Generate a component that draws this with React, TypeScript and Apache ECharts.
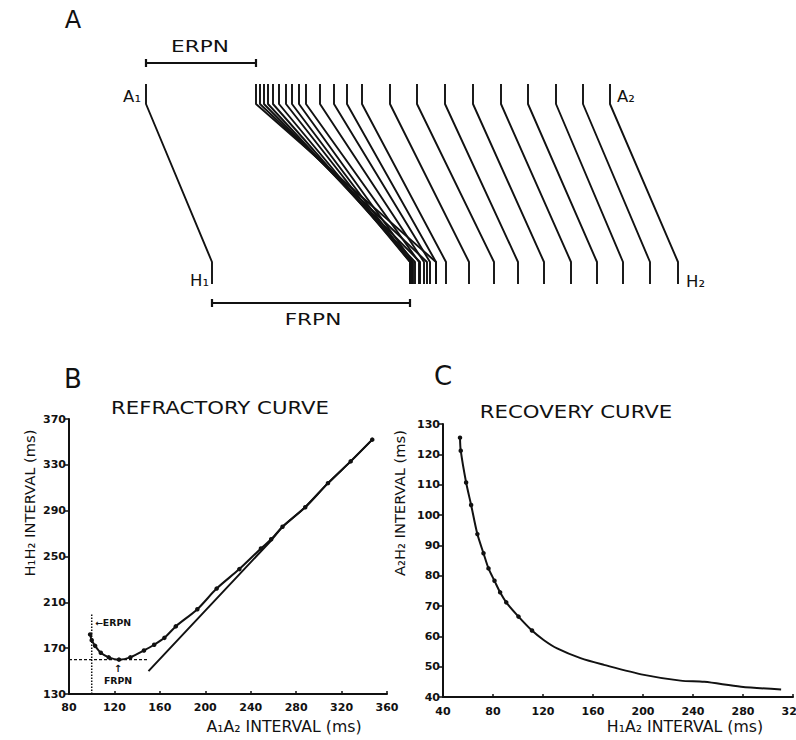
import React, { useEffect, useRef } from "react";
import * as echarts from "echarts";

// ---------- Panel A: ladder diagram (schematic time units, A1 = 0) ----------
const ladderA1 = 0;
const ladderH1 = 66;
const ladderA2 = [110, 114, 118, 122, 127, 133, 140, 146, 153, 160, 174, 188, 201, 216, 244, 271, 299, 327, 355, 382, 410, 437, 464];
const ladderH2 = [290, 281, 274, 269, 266, 264, 264, 265, 267, 273, 278, 284, 290, 300, 323, 348, 372, 398, 425, 451, 477, 504, 532];
// levels: atrial top, atrial end, His start, His bottom
const ladderLevels = [0, 20, 178, 200];
const erpnBracketLevel = -21;
const frpnBracketLevel = 219;

// ---------- Panel B: refractory curve ----------
const refA1A2 = [98.6, 100, 103, 108, 115, 124, 134, 146, 155, 164, 174, 193, 210, 230, 249, 258, 268, 288, 308, 328, 347];
const refH1H2 = [182, 177, 172, 166, 162, 160, 162, 168, 173, 179, 189, 204, 222, 239, 257, 265, 276, 293, 314, 333, 352];
const lineA1A2 = [150, 258, 268, 288, 308, 328, 347];
const lineH1H2 = [150, 264, 276, 293, 314, 333, 352];
const erpnValue = 100;
const frpnValue = 160;

// ---------- Panel C: recovery curve ----------
const recH1A2 = [53.6, 54.2, 58.5, 62.5, 67.5, 72.4, 76.4, 81.2, 85.7, 90.6, 100.4, 111.2, 120.5, 131.3, 150, 168.7, 200.8, 230, 249, 278.4, 310.5];
const recA2H2 = [125.5, 121.2, 110.7, 103.3, 93.7, 87.4, 82.4, 78.3, 74.5, 71.2, 66.5, 61.9, 58.8, 56, 52.8, 50.6, 47.3, 45.4, 45, 43.4, 42.5];
const recMarkedCount = 12;

const INK = "#111111";
const FONT = "DejaVu Sans";

function txt(text: string, x: number, y: number, size: number, opts: any = {}) {
  return {
    type: "text",
    x,
    y,
    scaleX: opts.sx ?? 1,
    rotation: opts.rot ?? 0,
    style: {
      text,
      fontSize: size,
      fontFamily: FONT,
      fontWeight: opts.bold ? "bold" : "normal",
      fill: INK,
      align: opts.align ?? "center",
      verticalAlign: "middle",
    },
  };
}

const tickLabel = (margin: number) => ({
  color: INK,
  fontFamily: FONT,
  fontWeight: "bold",
  fontSize: 11,
  margin,
});

function axisCommon(extra: any) {
  return {
    type: "value",
    splitLine: { show: false },
    axisLine: { show: true, onZero: false, lineStyle: { color: INK, width: 2 } },
    ...extra,
  };
}

export default function App() {
  const ref = useRef<HTMLDivElement>(null);
  useEffect(() => {
    if (!ref.current) return;
    const chart = echarts.init(ref.current, undefined, { renderer: "svg" });

    const ladderSeries: any[] = [];
    const mk = (a: number, h: number) => ({
      type: "line",
      xAxisIndex: 0,
      yAxisIndex: 0,
      symbol: "none",
      silent: true,
      lineStyle: { color: INK, width: 1.9 },
      data: [
        [a, ladderLevels[0]],
        [a, ladderLevels[1]],
        [h, ladderLevels[2]],
        [h, ladderLevels[3]],
      ],
    });
    ladderSeries.push(mk(ladderA1, ladderH1));
    ladderA2.forEach((a, i) => ladderSeries.push(mk(a, ladderH2[i])));
    const bracket = (x0: number, x1: number, lv: number) => ({
      type: "line",
      xAxisIndex: 0,
      yAxisIndex: 0,
      symbol: "none",
      silent: true,
      lineStyle: { color: INK, width: 2.2 },
      data: [
        [x0, lv - 4],
        [x0, lv + 4],
        [x0, lv],
        [x1, lv],
        [x1, lv - 4],
        [x1, lv + 4],
      ],
    });
    ladderSeries.push(bracket(ladderA1, ladderA2[0], erpnBracketLevel));
    ladderSeries.push(bracket(ladderH1, Math.min(...ladderH2), frpnBracketLevel));

    const option: any = {
      animation: false,
      backgroundColor: "#ffffff",
      grid: [
        { left: 146, top: 44, width: 532, height: 280, outerBoundsMode: "none", containLabel: false },
        { left: 69, top: 419, width: 318, height: 275, outerBoundsMode: "none", containLabel: false },
        { left: 443, top: 424, width: 350, height: 273, outerBoundsMode: "none", containLabel: false },
      ],
      xAxis: [
        { type: "value", gridIndex: 0, min: 0, max: 532, show: false },
        axisCommon({
          gridIndex: 1,
          min: 80,
          max: 360,
          interval: 40,
          axisTick: { show: true, inside: true, length: 3, lineStyle: { color: INK, width: 1.5 } },
          axisLabel: tickLabel(8),
        }),
        axisCommon({
          gridIndex: 2,
          min: 40,
          max: 320,
          interval: 40,
          axisTick: { show: true, inside: true, length: 3, lineStyle: { color: INK, width: 1.5 } },
          axisLabel: tickLabel(9),
        }),
      ],
      yAxis: [
        { type: "value", gridIndex: 0, min: -40, max: 240, inverse: true, show: false },
        axisCommon({
          gridIndex: 1,
          min: 130,
          max: 370,
          interval: 40,
          axisTick: { show: true, inside: false, length: 4, lineStyle: { color: INK, width: 1.5 } },
          axisLabel: tickLabel(3),
        }),
        axisCommon({
          gridIndex: 2,
          min: 40,
          max: 130,
          interval: 10,
          axisTick: { show: true, inside: false, length: 4, lineStyle: { color: INK, width: 1.5 } },
          axisLabel: tickLabel(3),
        }),
      ],
      series: [
        ...ladderSeries,
        {
          type: "line",
          xAxisIndex: 1,
          yAxisIndex: 1,
          symbol: "none",
          silent: true,
          lineStyle: { color: INK, width: 1.5, type: "dotted" },
          data: [
            [erpnValue, 130],
            [erpnValue, 200],
          ],
        },
        {
          type: "line",
          xAxisIndex: 1,
          yAxisIndex: 1,
          symbol: "none",
          silent: true,
          lineStyle: { color: INK, width: 1.3, type: [3, 2] },
          data: [
            [80, frpnValue],
            [150, frpnValue],
          ],
        },
        {
          type: "line",
          xAxisIndex: 1,
          yAxisIndex: 1,
          symbol: "none",
          silent: true,
          lineStyle: { color: INK, width: 2 },
          data: lineA1A2.map((x, i) => [x, lineH1H2[i]]),
        },
        {
          type: "line",
          xAxisIndex: 1,
          yAxisIndex: 1,
          symbol: "circle",
          symbolSize: 4.5,
          silent: true,
          smooth: 0.3,
          itemStyle: { color: INK },
          lineStyle: { color: INK, width: 2 },
          data: refA1A2.map((x, i) => [x, refH1H2[i]]),
        },
        {
          type: "line",
          xAxisIndex: 2,
          yAxisIndex: 2,
          symbol: "circle",
          symbolSize: 4.5,
          silent: true,
          smooth: 0.3,
          itemStyle: { color: INK },
          lineStyle: { color: INK, width: 2 },
          data: recH1A2.map((x, i) =>
            i < recMarkedCount ? { value: [x, recA2H2[i]] } : { value: [x, recA2H2[i]], symbol: "none" }
          ),
        },
      ],
      graphic: [
        txt("A", 73, 20, 24),
        txt("ERPN", 200, 46, 16, { sx: 1.35 }),
        txt("A\u2081", 141, 97, 15, { align: "right", sx: 1.1 }),
        txt("H\u2081", 209, 281, 15, { align: "right", sx: 1.1 }),
        txt("A\u2082", 617, 97, 15, { align: "left", sx: 1.1 }),
        txt("H\u2082", 686, 282, 15, { align: "left", sx: 1.1 }),
        txt("FRPN", 313, 319, 16, { sx: 1.35 }),
        txt("B", 73, 379, 26),
        txt("REFRACTORY CURVE", 220, 408, 17, { sx: 1.25 }),
        txt("C", 443, 376, 26),
        txt("RECOVERY CURVE", 576, 412, 17, { sx: 1.25 }),
        txt("H\u2081H\u2082 INTERVAL (ms)", 30, 503, 14, { rot: Math.PI / 2, sx: 1.05 }),
        txt("A\u2081A\u2082 INTERVAL (ms)", 284, 727, 15, { sx: 1.05 }),
        txt("A\u2082H\u2082 INTERVAL (ms)", 400, 503, 14, { rot: Math.PI / 2, sx: 1.05 }),
        txt("H\u2081A\u2082 INTERVAL (ms)", 685, 727, 15, { sx: 1.05 }),
        txt("\u2190ERPN", 95, 623, 8.5, { bold: true, align: "left", sx: 1.1 }),
        txt("\u2191", 118, 668, 10, { bold: true }),
        txt("FRPN", 118, 681, 8.5, { bold: true, sx: 1.1 }),
      ],
    };
    chart.setOption(option);
    return () => chart.dispose();
  }, []);
  return (
    <div
      ref={ref}
      style={{ position: "absolute", left: 0, top: 0, width: 796, height: 740, background: "#fff" }}
    />
  );
}
